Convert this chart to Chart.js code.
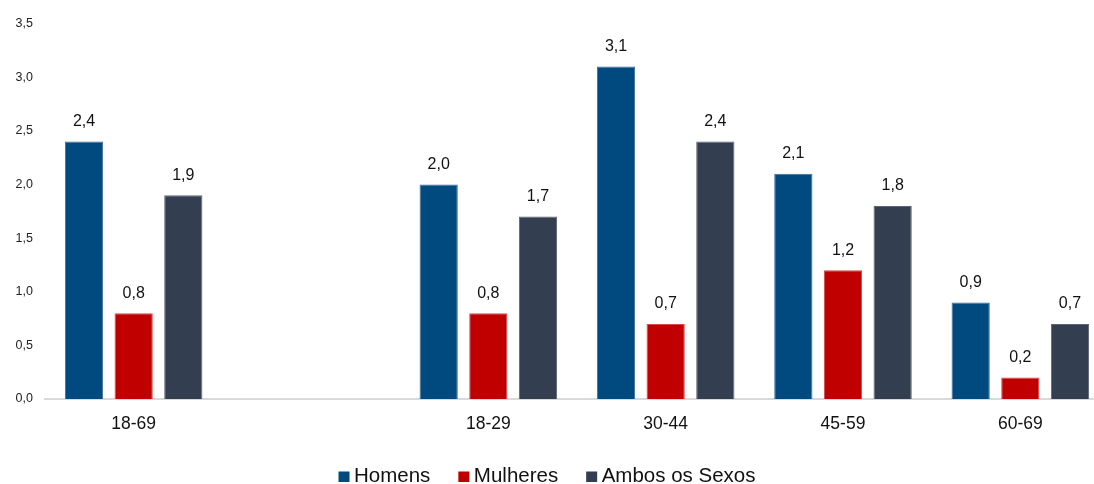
<!DOCTYPE html>
<html>
<head>
<meta charset="utf-8">
<script src="https://cdn.jsdelivr.net/npm/chart.js@4.4.0/dist/chart.umd.min.js"></script>
<style>
html,body{margin:0;padding:0;background:#fff;overflow:hidden;width:1094px;height:484px;}
#wrap{width:1109px;height:484px;}
</style>
</head>
<body>
<div id="wrap"><canvas id="c" width="1109" height="484"></canvas></div>
<script>
const categories = ["18-69", "", "18-29", "30-44", "45-59", "60-69"];
const homens = [2.4, null, 2.0, 3.1, 2.1, 0.9];
const mulheres = [0.8, null, 0.8, 0.7, 1.2, 0.2];
const ambos = [1.9, null, 1.7, 2.4, 1.8, 0.7];
const seriesNames = ["Homens", "Mulheres", "Ambos os Sexos"];
const seriesColors = ["#004A80", "#C00000", "#333F50"];
const yTicks = [0, 0.5, 1.0, 1.5, 2.0, 2.5, 3.0, 3.5];

const VIEW_W = 1094;
const fmt = v => Number(v).toFixed(1).replace('.', ',');
const FONT = "'Liberation Sans', Arial, sans-serif";

const labelPlugin = {
  id: 'valueLabels',
  afterDatasetsDraw(chart) {
    const ctx = chart.ctx;
    ctx.save();
    ctx.font = "16px " + FONT;
    ctx.fillStyle = "#111";
    ctx.textAlign = "center";
    ctx.textBaseline = "alphabetic";
    chart.data.datasets.forEach((ds, i) => {
      const meta = chart.getDatasetMeta(i);
      meta.data.forEach((bar, j) => {
        const v = ds.data[j];
        if (v === null || v === undefined) return;
        ctx.fillText(fmt(v), bar.x, bar.y - 15.5);
      });
    });
    ctx.restore();
  }
};

const legendPlugin = {
  id: 'customLegend',
  afterDraw(chart) {
    const ctx = chart.ctx;
    ctx.save();
    ctx.font = "20.5px " + FONT;
    ctx.textBaseline = "alphabetic";
    ctx.textAlign = "left";
    const box = 11, gapText = 4.5, gapItem = 28;
    const items = chart.data.datasets.map(ds => ({text: ds.label, color: ds.backgroundColor, w: ctx.measureText(ds.label).width}));
    let total = 0;
    items.forEach((it, i) => { total += box + gapText + it.w + (i < items.length - 1 ? gapItem : 0); });
    let x = VIEW_W / 2 - total / 2;
    const baseline = 482;
    items.forEach(it => {
      ctx.fillStyle = it.color;
      ctx.fillRect(x, 471.5, box, 10.5);
      ctx.fillStyle = "#111";
      ctx.fillText(it.text, x + box + gapText, baseline);
      x += box + gapText + it.w + gapItem;
    });
    ctx.restore();
  }
};

new Chart(document.getElementById('c'), {
  type: 'bar',
  data: {
    labels: categories,
    datasets: [
      {label: seriesNames[0], data: homens, backgroundColor: seriesColors[0], borderColor: '#3A6E99', borderWidth: 1},
      {label: seriesNames[1], data: mulheres, backgroundColor: seriesColors[1], borderColor: '#D84848', borderWidth: 1},
      {label: seriesNames[2], data: ambos, backgroundColor: seriesColors[2], borderColor: '#5A6575', borderWidth: 1}
    ]
  },
  options: {
    responsive: false,
    animation: false,
    categoryPercentage: 0.84,
    barPercentage: 0.77,
    layout: {padding: {top: 23.5, right: 0, left: 0, bottom: 0}},
    plugins: {
      legend: {display: false},
      tooltip: {enabled: false}
    },
    scales: {
      x: {
        afterFit(scale) { scale.height = 85; },
        grid: {display: false, drawTicks: false},
        border: {display: true, color: '#D9D9D9', width: 2},
        ticks: {font: {family: FONT, size: 17.5}, color: '#111', padding: 15}
      },
      y: {
        min: 0, max: 3.5,
        afterBuildTicks(scale) { scale.ticks = yTicks.map(v => ({value: v})); },
        afterFit(scale) { scale.width = 45; },
        grid: {display: false, drawTicks: false},
        border: {display: false},
        ticks: {font: {family: FONT, size: 12.5}, color: '#222', padding: 12, callback: v => fmt(v)}
      }
    }
  },
  plugins: [labelPlugin, legendPlugin]
});
</script>
</body>
</html>
